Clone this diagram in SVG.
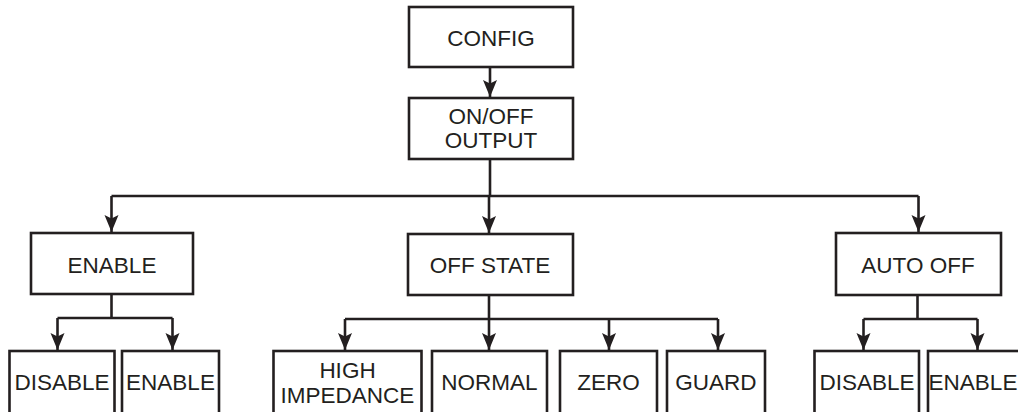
<svg xmlns="http://www.w3.org/2000/svg" width="1018" height="412" viewBox="0 0 1018 412">
<style>
.box{fill:#fff;stroke:#231f20;stroke-width:2.6}
.t{font-family:"Liberation Sans",Arial,sans-serif;font-size:22.5px;fill:#231f20;text-anchor:middle}
.c{fill:none;stroke:#231f20;stroke-width:2.6}
</style>
<defs>
<marker id="ah" markerUnits="userSpaceOnUse" markerWidth="20" markerHeight="16" viewBox="-19 -8 20 16" refX="0" refY="0" orient="auto" overflow="visible">
<path d="M0,0 L-17,-7 L-13.5,0 L-17,7 Z" fill="#231f20"/>
</marker>
</defs>
<rect width="1018" height="412" fill="#fff"/>
<g id="connectors">
<path class="c" d="M490,67 V97" marker-end="url(#ah)"/>
<path class="c" d="M490,159 V196"/>
<path class="c" d="M111.5,196 H918.5"/>
<path class="c" d="M111.5,196 V232" marker-end="url(#ah)"/>
<path class="c" d="M489,196 V233" marker-end="url(#ah)"/>
<path class="c" d="M918.5,196 V232" marker-end="url(#ah)"/>
<path class="c" d="M111.5,294 V318"/>
<path class="c" d="M57.5,318 H172.5"/>
<path class="c" d="M57.5,318 V350" marker-end="url(#ah)"/>
<path class="c" d="M172.5,318 V350" marker-end="url(#ah)"/>
<path class="c" d="M489,295 V319"/>
<path class="c" d="M345,319 H718"/>
<path class="c" d="M345,319 V350" marker-end="url(#ah)"/>
<path class="c" d="M489,319 V350" marker-end="url(#ah)"/>
<path class="c" d="M609,319 V350" marker-end="url(#ah)"/>
<path class="c" d="M718,319 V350" marker-end="url(#ah)"/>
<path class="c" d="M917.5,295 V319"/>
<path class="c" d="M863.5,319 H977.5"/>
<path class="c" d="M863.5,319 V350" marker-end="url(#ah)"/>
<path class="c" d="M977.5,319 V350" marker-end="url(#ah)"/>
</g>
<g id="config"><rect class="box" x="409" y="7" width="164" height="60"/><text class="t" x="491" y="46">CONFIG</text></g>
<g id="onoff"><rect class="box" x="409" y="98" width="164" height="61"/><text class="t" x="491" y="124">ON/OFF</text><text class="t" x="491" y="148">OUTPUT</text></g>
<g id="enable"><rect class="box" x="31" y="233" width="162" height="61"/><text class="t" x="112" y="273">ENABLE</text></g>
<g id="offstate"><rect class="box" x="408" y="234" width="165" height="61"/><text class="t" x="490" y="273">OFF STATE</text></g>
<g id="autooff"><rect class="box" x="836" y="233" width="165" height="62"/><text class="t" x="918" y="273">AUTO OFF</text></g>
<g id="en-disable"><rect class="box" x="9.5" y="351" width="105" height="70"/><text class="t" x="62" y="390">DISABLE</text></g>
<g id="en-enable"><rect class="box" x="122" y="351" width="97" height="70"/><text class="t" x="170.5" y="390">ENABLE</text></g>
<g id="highimp"><rect class="box" x="273.5" y="351" width="148" height="70"/><text class="t" x="347.5" y="378">HIGH</text><text class="t" x="347.5" y="403">IMPEDANCE</text></g>
<g id="normal"><rect class="box" x="432" y="351" width="115" height="70"/><text class="t" x="489.5" y="390">NORMAL</text></g>
<g id="zero"><rect class="box" x="560" y="351" width="97" height="70"/><text class="t" x="608.5" y="390">ZERO</text></g>
<g id="guard"><rect class="box" x="667" y="351" width="98" height="70"/><text class="t" x="716" y="390">GUARD</text></g>
<g id="ao-disable"><rect class="box" x="814.5" y="351" width="104.5" height="70"/><text class="t" x="867" y="390">DISABLE</text></g>
<g id="ao-enable"><rect class="box" x="928" y="351" width="96" height="70"/><text class="t" x="973" y="390">ENABLE</text></g>
</svg>
